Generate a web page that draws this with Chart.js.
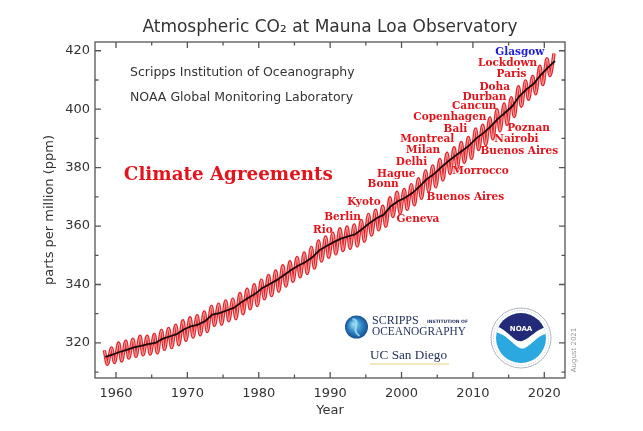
<!DOCTYPE html>
<html><head><meta charset="utf-8">
<script src="https://cdn.jsdelivr.net/npm/chart.js@4"></script>
<style>html,body{margin:0;padding:0;background:#fff}canvas{display:block}</style>
</head><body>
<canvas id="c" width="643" height="431"></canvas>
<script>
// ---- data ----
const YEARS = [1958,1959,1960,1961,1962,1963,1964,1965,1966,1967,1968,1969,1970,1971,1972,1973,1974,1975,1976,1977,1978,1979,1980,1981,1982,1983,1984,1985,1986,1987,1988,1989,1990,1991,1992,1993,1994,1995,1996,1997,1998,1999,2000,2001,2002,2003,2004,2005,2006,2007,2008,2009,2010,2011,2012,2013,2014,2015,2016,2017,2018,2019,2020,2021];
const ANNUAL_MEAN = [315.2,316.0,316.9,317.6,318.5,319.0,319.6,320.0,321.4,322.2,323.0,324.6,325.7,326.3,327.5,329.7,330.2,331.1,332.0,333.8,335.4,336.8,338.8,340.1,341.5,343.2,344.9,346.4,347.6,349.3,351.7,353.2,354.5,355.7,356.5,357.2,359.0,361.0,362.7,363.9,366.8,368.5,369.7,371.3,373.5,376.0,377.7,380.0,382.1,384.0,385.8,387.6,390.1,391.9,394.1,396.7,398.8,401.0,404.4,406.8,408.7,411.7,414.2,416.5];
const MAY_PEAK = [317.5,318.3,320.0,320.6,321.3,322.3,322.3,322.9,324.3,325.0,326.1,327.6,328.6,329.3,330.6,332.5,333.3,334.4,335.0,336.9,338.4,339.9,341.5,343.1,344.6,346.4,347.8,349.3,350.8,352.7,354.9,356.3,357.6,359.1,359.7,360.4,361.9,364.0,365.4,366.8,369.7,371.6,372.5,374.2,376.2,378.9,380.6,382.8,384.9,386.8,388.6,390.3,393.2,394.5,397.0,399.8,401.8,403.9,407.7,409.7,411.2,414.7,417.3,419.1];
const AUTUMN_LOW = [312.7,313.3,313.8,314.8,315.4,315.9,316.2,316.6,317.8,318.4,319.4,320.9,322.0,322.8,323.9,326.0,326.4,327.6,328.3,330.0,331.7,332.8,335.1,336.2,337.7,339.5,341.1,342.6,343.8,345.6,348.0,349.3,350.5,351.6,352.4,353.2,354.8,356.9,358.7,359.9,363.3,364.4,365.7,367.3,369.5,372.0,373.4,375.8,378.0,379.9,381.8,383.2,386.2,387.9,389.9,392.6,394.8,397.5,401.0,403.4,405.3,408.4,411.5,null];
const PEAK_MONTH = 5, LOW_MONTH = 10;
const X_TICKS = [1960,1970,1980,1990,2000,2010,2020];
const X_MINOR = [1965,1975,1985,1995,2005,2015];
const Y_TICKS = [320,340,360,380,400,420];
const Y_MINOR = [310,330,350,370,390,410];

// annotation labels: text, anchor year, anchor ppm
const LEFT_LABELS = [
  ['Lockdown',2019.0,415.8],['Paris',2017.5,412.0],['Doha',2015.2,407.6],['Durban',2014.7,404.2],
  ['Cancun',2013.3,401.1],['Copenhagen',2011.9,397.3],['Bali',2009.2,393.2],['Montreal',2007.4,389.8],
  ['Milan',2005.4,386.0],['Delhi',2003.6,381.9],['Hague',2001.95,377.8],['Bonn',1999.6,374.4],
  ['Kyoto',1997.1,368.2],['Berlin',1994.3,363.1],['Rio',1990.35,358.6]
];
const RIGHT_LABELS = [
  ['Poznan',2014.8,393.5],['Nairobi',2013.0,389.8],['Buenos Aires',2011.05,385.7],
  ['Morrocco',2007.1,378.8],['Buenos Aires',2003.5,369.9],['Geneva',1999.3,362.4]
];
const BLUE_LABEL = ['Glasgow',2020.0,419.6];

const wave = [];
YEARS.forEach((yr,i)=>{
  wave.push({x: yr + (PEAK_MONTH-0.5)/12, y: MAY_PEAK[i]});
  if (AUTUMN_LOW[i] != null) wave.push({x: yr + (LOW_MONTH-0.5)/12, y: AUTUMN_LOW[i]});
});
const trend = YEARS.map((yr,i)=>({x: yr + 0.5, y: ANNUAL_MEAN[i]}));

const decor = {
  id: 'decor',
  beforeDatasetsDraw(chart){
    const ctx = chart.ctx, xs = chart.scales.x, ys = chart.scales.y;
    ctx.save();
    ctx.fillStyle = '#333';
    ctx.font = '12.5px "DejaVu Sans"';
    ctx.textAlign = 'left'; ctx.textBaseline = 'middle';
    ctx.fillText('Scripps Institution of Oceanography', 130, 73, 244);
    ctx.fillText('NOAA Global Monitoring Laboratory', 130, 98, 237);
    ctx.fillStyle = '#e3141b';
    ctx.font = 'bold 18.5px "DejaVu Serif"';
    ctx.fillText('Climate Agreements', xs.getPixelForValue(1961.1), ys.getPixelForValue(377.45), 209);
    ctx.font = 'bold 10.5px "DejaVu Serif"';
    ctx.textAlign = 'right';
    LEFT_LABELS.forEach(([t,x,y])=>ctx.fillText(t, xs.getPixelForValue(x), ys.getPixelForValue(y)));
    ctx.fillStyle = '#1c1ce0';
    ctx.fillText(BLUE_LABEL[0], xs.getPixelForValue(BLUE_LABEL[1]), ys.getPixelForValue(BLUE_LABEL[2]));
    ctx.fillStyle = '#e3141b';
    ctx.textAlign = 'left';
    RIGHT_LABELS.forEach(([t,x,y])=>ctx.fillText(t, xs.getPixelForValue(x), ys.getPixelForValue(y)));

    // Scripps logo
    const gx = 356.5, gy = 327, gr = 11.5;
    const g = ctx.createRadialGradient(gx-3, gy-3, 1, gx, gy, gr);
    g.addColorStop(0, '#8fd8f2'); g.addColorStop(0.55, '#2f86c4'); g.addColorStop(1, '#174f93');
    ctx.fillStyle = g;
    ctx.beginPath(); ctx.arc(gx, gy, gr, 0, Math.PI*2); ctx.fill();
    ctx.strokeStyle = 'rgba(170,225,245,0.8)'; ctx.lineWidth = 2;
    ctx.beginPath(); ctx.moveTo(gx-4, gy-8); ctx.bezierCurveTo(gx+6, gy-6, gx-7, gy+3, gx+3, gy+9); ctx.stroke();
    ctx.fillStyle = '#1c2c5e';
    ctx.font = '12px "Liberation Serif"';
    ctx.fillText('SCRIPPS', 372, 321, 52);
    ctx.fillText('OCEANOGRAPHY', 372, 331.5, 94);
    ctx.font = 'bold 4.5px "DejaVu Sans"';
    ctx.fillText('INSTITUTION OF', 427, 322, 45);
    ctx.font = '13.5px "Liberation Serif"';
    ctx.fillText('UC San Diego', 370, 355, 77);
    ctx.strokeStyle = '#efe2a8'; ctx.lineWidth = 1.5;
    ctx.beginPath(); ctx.moveTo(370, 364); ctx.lineTo(449, 364); ctx.stroke();

    // NOAA logo
    const nx = 521, ny = 338;
    ctx.fillStyle = '#fff'; ctx.strokeStyle = '#9aa3b0'; ctx.lineWidth = 0.8;
    ctx.beginPath(); ctx.arc(nx, ny, 30, 0, Math.PI*2); ctx.fill(); ctx.stroke();
    ctx.setLineDash([1,1.5]); ctx.strokeStyle = '#a8b3c4';
    ctx.beginPath(); ctx.arc(nx, ny, 27.5, 0, Math.PI*2); ctx.stroke();
    ctx.setLineDash([]);
    ctx.save();
    ctx.beginPath(); ctx.arc(nx, ny, 25, 0, Math.PI*2); ctx.clip();
    ctx.fillStyle = '#2aa8df'; ctx.fillRect(nx-26, ny-26, 52, 52);
    ctx.fillStyle = '#fff';
    ctx.beginPath(); ctx.moveTo(nx-26, ny-6);
    ctx.bezierCurveTo(nx-12, ny-4, nx-4, ny+14, nx+4, ny+10);
    ctx.bezierCurveTo(nx+12, ny+6, nx+18, ny-4, nx+26, ny-4);
    ctx.lineTo(nx+26, ny-26); ctx.lineTo(nx-26, ny-26); ctx.closePath(); ctx.fill();
    ctx.fillStyle = '#232a77';
    ctx.beginPath(); ctx.moveTo(nx-26, ny-12);
    ctx.bezierCurveTo(nx-14, ny-10, nx-6, ny+6, nx+1, ny+3);
    ctx.bezierCurveTo(nx+10, ny, nx+16, ny-10, nx+26, ny-11);
    ctx.lineTo(nx+26, ny-26); ctx.lineTo(nx-26, ny-26); ctx.closePath(); ctx.fill();
    ctx.restore();
    ctx.fillStyle = '#fff'; ctx.font = 'bold 7px "DejaVu Sans"'; ctx.textAlign = 'center';
    ctx.fillText('NOAA', nx, ny-9);

    // August 2021
    ctx.save();
    ctx.translate(574, 350); ctx.rotate(-Math.PI/2);
    ctx.fillStyle = '#999'; ctx.font = '7px "DejaVu Sans"';
    ctx.fillText('August 2021', 0, 0);
    ctx.restore();
    ctx.restore();
  },
  afterDraw(chart){
    const ctx = chart.ctx, xs = chart.scales.x, ys = chart.scales.y;
    const {left, right, top, bottom} = chart.chartArea;
    ctx.save();
    ctx.strokeStyle = '#555'; ctx.lineWidth = 1.3;
    ctx.strokeRect(left, top, right-left, bottom-top);
    ctx.beginPath();
    const tx = (v, len)=>{ const p = xs.getPixelForValue(v);
      ctx.moveTo(p, bottom); ctx.lineTo(p, bottom-len); ctx.moveTo(p, top); ctx.lineTo(p, top+len); };
    const ty = (v, len)=>{ const p = ys.getPixelForValue(v);
      ctx.moveTo(left, p); ctx.lineTo(left+len, p); ctx.moveTo(right, p); ctx.lineTo(right-len, p); };
    X_TICKS.forEach(v=>tx(v,6)); X_MINOR.forEach(v=>tx(v,3.5));
    Y_TICKS.forEach(v=>ty(v,6)); Y_MINOR.forEach(v=>ty(v,3.5));
    ctx.stroke();
    ctx.restore();
  }
};

new Chart(document.getElementById('c'), {
  type: 'line',
  data: { datasets: [
    { label: 'Annual mean', data: trend, borderColor: '#1a0a0a', borderWidth: 1.8, pointRadius: 0, order: 0 },
    { label: 'Monthly (inner)', data: wave, borderColor: '#f7a9a9', borderWidth: 1.1, pointRadius: 0, cubicInterpolationMode: 'monotone', order: 1 },
    { label: 'Monthly', data: wave, borderColor: '#e5262b', borderWidth: 3.4, pointRadius: 0, cubicInterpolationMode: 'monotone', order: 2 }
  ]},
  options: {
    responsive: false, animation: false,
    layout: { padding: { left: 0, right: 78, top: 0, bottom: 0 } },
    plugins: {
      legend: { display: false }, tooltip: { enabled: false },
      title: { display: true, fullSize: false, text: 'Atmospheric CO₂ at Mauna Loa Observatory',
        color: '#333', font: { family: 'DejaVu Sans', size: 17, weight: 'normal' },
        padding: { top: 17.8, bottom: 3.8 } }
    },
    scales: {
      x: { type: 'linear', min: 1957.06, max: 2022.9,
        afterBuildTicks: s => { s.ticks = X_TICKS.map(v=>({value:v})); },
        afterFit: s => { s.height = 53; },
        grid: { display: false, drawTicks: false }, border: { display: false },
        ticks: { callback: v => String(v), color: '#333', font: { family: 'DejaVu Sans', size: 13 }, padding: 8, maxRotation: 0, autoSkip: false },
        title: { display: true, text: 'Year', color: '#333', font: { family: 'DejaVu Sans', size: 13 }, padding: { top: 0, bottom: 13 } } },
      y: { min: 308, max: 423,
        afterBuildTicks: s => { s.ticks = Y_TICKS.map(v=>({value:v})); },
        afterFit: s => { s.width = 95; },
        grid: { display: false, drawTicks: false }, border: { display: false },
        ticks: { color: '#333', font: { family: 'DejaVu Sans', size: 13 }, padding: 5, autoSkip: false },
        title: { display: true, text: 'parts per million (ppm)', color: '#333', font: { family: 'DejaVu Sans', size: 13 }, padding: { top: 42, bottom: 0 } } }
    }
  },
  plugins: [decor]
});
</script>
</body></html>
